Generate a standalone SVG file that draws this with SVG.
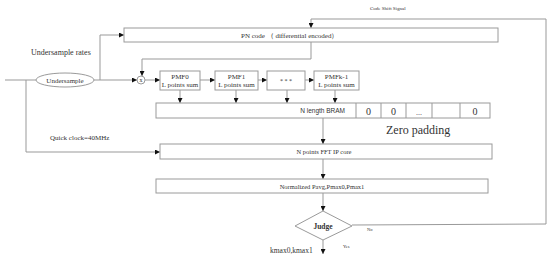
<svg xmlns="http://www.w3.org/2000/svg" width="550" height="261" viewBox="0 0 550 261">
<defs>
<marker id="arr" viewBox="0 0 6 6" refX="6" refY="3" markerWidth="5" markerHeight="5" markerUnits="userSpaceOnUse" orient="auto">
<path d="M0,0 L6,3 L0,6 Z" fill="#111"/>
</marker>
<style>
.box{fill:#fff;stroke:#9a9a9a;stroke-width:1}
.ln{fill:none;stroke:#999;stroke-width:1}
.ar{marker-end:url(#arr)}
.t{font-family:"Liberation Serif","Times New Roman",serif;fill:#333;font-size:7px}
.s{font-family:"Liberation Sans",Arial,sans-serif;fill:#333;font-size:6.5px}
</style>
</defs>
<rect width="550" height="261" fill="#fff"/>

<g id="connectors">
<path class="ln" d="M5,80 H36"/>
<path class="ln ar" d="M26,80 V152 H160"/>
<path class="ln ar" d="M94,80 H137"/>
<path class="ln ar" d="M100,80 V35 H124"/>
<path class="ln ar" d="M145,80 H160"/>
<path class="ln ar" d="M200,80 H215"/>
<path class="ln ar" d="M258,80 H267"/>
<path class="ln ar" d="M305,80 H314"/>
<path class="ln ar" d="M180,90 V103"/>
<path class="ln ar" d="M236,90 V103"/>
<path class="ln ar" d="M287,90 V103"/>
<path class="ln ar" d="M335,90 V103"/>
<path class="ln ar" d="M311,42 V59 H142 V76"/>
<path class="ln ar" d="M323,118 V144"/>
<path class="ln ar" d="M323,159 V179"/>
<path class="ln ar" d="M323,193 V211"/>
<path class="ln ar" d="M323,240 V254"/>
<path class="ln ar" d="M352,225 L546,224 V19 H311 V28"/>
</g>

<g id="labels">
<text class="t" x="31" y="55" style="font-size:8px">Undersample rates</text>
<text class="t" x="50" y="140">Quick clock=40MHz</text>
<text class="t" x="370" y="10" style="font-size:5px">Code Shift Signal</text>
<text class="t" x="386" y="134" style="font-size:12px">Zero padding</text>
<text class="t" x="270" y="253" style="font-size:7.5px">kmax0,kmax1</text>
<text class="t" x="343" y="248" style="font-size:4.5px">Yes</text>
<text class="t" x="367" y="231" style="font-size:4.5px">No</text>
</g>

<g id="undersample">
<ellipse class="box" cx="65" cy="80" rx="29" ry="7"/>
<text class="t" x="65" y="82.5" text-anchor="middle">Undersample</text>
</g>

<g id="mixer">
<circle class="box" cx="141" cy="80" r="4"/>
<text class="t" x="141" y="82" text-anchor="middle" style="font-size:6px">x</text>
</g>

<g id="pncode">
<rect class="box" x="124" y="28" width="374" height="14"/>
<text class="t" x="241" y="37.5">PN code  （ differential encoded）</text>
</g>

<g id="pmf0">
<rect class="box" x="160" y="71" width="40" height="19"/>
<text class="t" x="180" y="79" text-anchor="middle">PMF0</text>
<text class="t" x="180" y="87" text-anchor="middle">L points sum</text>
</g>
<g id="pmf1">
<rect class="box" x="215" y="71" width="43" height="19"/>
<text class="t" x="236.5" y="79" text-anchor="middle">PMF1</text>
<text class="t" x="236.5" y="87" text-anchor="middle">L points sum</text>
</g>
<g id="pmfdots">
<rect class="box" x="267" y="71" width="38" height="19"/>
<text class="t" x="286" y="83" text-anchor="middle" style="font-size:6px">*   *   *</text>
</g>
<g id="pmfk">
<rect class="box" x="314" y="71" width="45" height="19"/>
<text class="t" x="336.5" y="79" text-anchor="middle">PMFk-1</text>
<text class="t" x="336.5" y="87" text-anchor="middle">L points sum</text>
</g>

<g id="bram">
<rect class="box" x="156" y="103" width="334" height="15"/>
<path class="ln" d="M356,103 V118 M381,103 V118 M406,103 V118 M432,103 V118 M460,103 V118"/>
<text class="s" x="345" y="113" text-anchor="end">N length BRAM</text>
<text class="t" x="368.5" y="114.5" text-anchor="middle" style="font-size:10px">0</text>
<text class="t" x="393.5" y="114.5" text-anchor="middle" style="font-size:10px">0</text>
<text class="t" x="419" y="114.5" text-anchor="middle" style="font-size:8px">...</text>
<text class="t" x="475" y="114.5" text-anchor="middle" style="font-size:10px">0</text>
</g>

<g id="fft">
<rect class="box" x="160" y="144" width="332" height="15"/>
<text class="t" x="324" y="154" text-anchor="middle" style="font-size:6.5px">N points FFT IP core</text>
</g>

<g id="normalized">
<rect class="box" x="156" y="179" width="332" height="14"/>
<text class="t" x="322" y="188.5" text-anchor="middle" style="font-size:6.5px">Normalized Pavg,Pmax0,Pmax1</text>
</g>

<g id="judge">
<polygon class="box" points="295,226 323,211 352,226 323,240"/>
<text class="t" x="323" y="228.5" text-anchor="middle" style="font-size:7.5px;font-weight:600">Judge</text>
</g>
</svg>
